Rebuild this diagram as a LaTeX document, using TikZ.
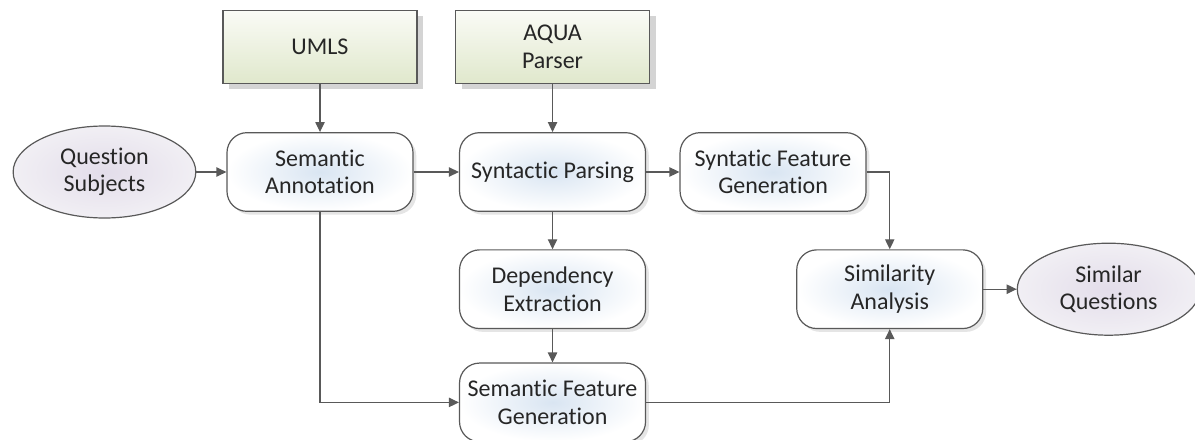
\documentclass[tikz,border=0pt]{standalone}
\usepackage{fontspec}
\setmainfont{Carlito}[Ligatures=NoCommon]
\usepackage{xcolor}
\usepackage{tikz}
\usetikzlibrary{positioning, arrows.meta, shapes.geometric, shadows}
\definecolor{LineGray}{HTML}{595959}
\definecolor{TextGray}{HTML}{262626}
\definecolor{StepBlue}{HTML}{D9E5F2}
\definecolor{SourceTop}{HTML}{FAFBF6}
\definecolor{SourceBottom}{HTML}{E0E8CC}
\definecolor{DataLilac}{HTML}{E3DDEA}
\definecolor{DataEdge}{HTML}{F1EFF4}
\definecolor{ShadowGray}{HTML}{D4D4D4}

\begin{document}
\begin{tikzpicture}[
            x=0.75pt, y=-0.75pt,
            node distance=28pt and 25pt,
            every node/.style={font=\fontsize{18}{20.5}\selectfont, text=TextGray},
            stage/.style={draw=LineGray, line width=0.9pt, rounded corners=15pt, align=center, minimum width=139.5pt, minimum height=59pt, inner color=StepBlue, outer color=white, drop shadow={shadow xshift=2.5pt, shadow yshift=-2.5pt, fill=ShadowGray, opacity=0.6}},
            source/.style={draw=LineGray, line width=0.9pt, align=center, minimum width=145.5pt, minimum height=55pt, top color=SourceTop, bottom color=SourceBottom, drop shadow={shadow xshift=4.5pt, shadow yshift=-4.5pt, fill=ShadowGray, opacity=1}},
            data/.style={ellipse, draw=LineGray, line width=0.9pt, align=center, minimum width=137pt, minimum height=69pt, inner color=DataLilac, outer color=DataEdge},
            arrow/.style={-{Triangle[length=7.5pt, width=7pt]}, LineGray, line width=0.9pt}
        ]
            \useasboundingbox (0,0) rectangle (1195,439);

            \node[stage] (annot) at (320,172) {Semantic\\Annotation};
            \node[data, left=22.5pt of annot] (subjects) {Question\\Subjects};
            \node[stage, right=34pt of annot] (parse) {Syntactic Parsing};
            \node[stage, right=25pt of parse] (synfeat) {Syntatic Feature\\Generation};

            \node[source, above=36pt of annot] (umls) {UMLS};
            \node[source, above=36pt of parse] (aqua) {AQUA\\Parser};

            \node[stage, below=of parse] (depend) {Dependency\\Extraction};
            \node[stage, below=25pt of depend] (semfeat) {Semantic Feature\\Generation};

            \node[stage, right=112.5pt of depend] (simil) {Similarity\\Analysis};
            \node[data, right=25pt of simil] (similar) {Similar\\Questions};

            \draw[arrow] (subjects) -- (annot);
            \draw[arrow] (umls) -- (annot);
            \draw[arrow] (aqua) -- (parse);
            \draw[arrow] (annot) -- (parse);
            \draw[arrow] (parse) -- (synfeat);
            \draw[arrow] (parse) -- (depend);
            \draw[arrow] (depend) -- (semfeat);
            \draw[arrow] (annot) |- (semfeat);
            \draw[arrow] (semfeat) -| (simil);
            \draw[arrow] (synfeat) -| (simil);
            \draw[arrow] (simil) -- (similar);

        \end{tikzpicture}
\end{document}
